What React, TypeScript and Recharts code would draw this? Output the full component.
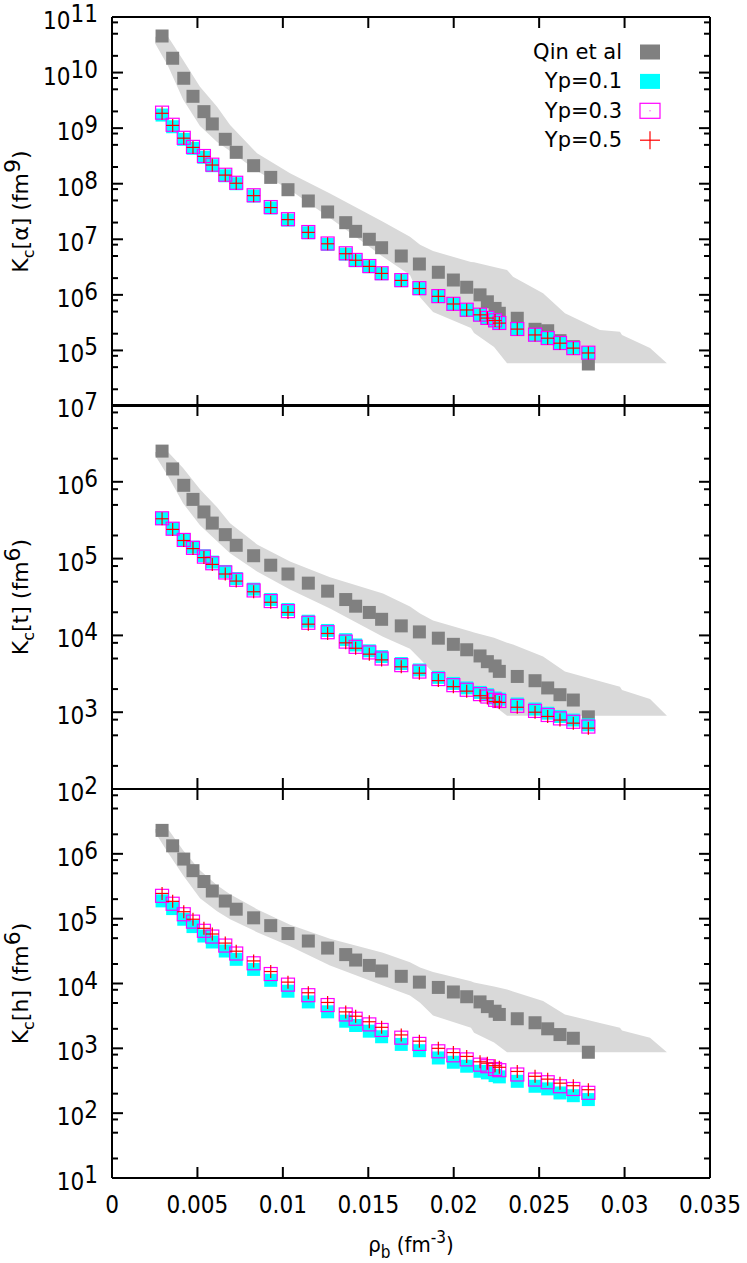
import { ComposedChart, Area, Scatter, XAxis, YAxis } from "recharts";

// baryon densities (fm^-3) shared by every point series
const rho = [
  0.00293, 0.00355, 0.0042, 0.00474, 0.00538, 0.00587, 0.00663, 0.00727, 0.00829, 0.00929, 0.0103,
  0.01149, 0.01262, 0.01368, 0.01426, 0.01506, 0.01578, 0.01693, 0.01799, 0.0191, 0.01998, 0.02076,
  0.02154, 0.02197, 0.02242, 0.02267, 0.02372, 0.02476, 0.0255, 0.02622, 0.027, 0.02788,
];

// K_c[alpha] (fm^9)
const qinAlpha = [
  4.55e10, 1.81e10, 7.9e9, 3.74e9, 1.98e9, 1.19e9, 6.3e8, 3.67e8, 2.11e8, 1.3e8, 7.8e7, 4.89e7, 3.1e7,
  1.99e7, 1.39e7, 1.0e7, 7.05e6, 5.0e6, 3.59e6, 2.55e6, 1.85e6, 1.37e6, 1.0e6, 7.5e5, 5.7e5, 4.66e5,
  3.79e5, 2.4e5, 2.26e5, 1.5e5, 1.17e5, 5.7e4,
];
const yp1Alpha = [
  1.72e9, 1.06e9, 6.3e8, 4.34e8, 2.99e8, 2.11e8, 1.39e8, 1.0e8, 6.0e7, 3.66e7, 2.22e7, 1.31e7, 8.1e6,
  5.4e6, 4.12e6, 3.21e6, 2.4e6, 1.8e6, 1.29e6, 9.3e5, 6.8e5, 5.3e5, 4.34e5, 3.79e5, 3.43e5, 3.08e5,
  2.4e5, 1.89e5, 1.65e5, 1.34e5, 1.09e5, 8.9e4,
];
const yp3Alpha = [
  1.9e9, 1.15e9, 6.7e8, 4.6e8, 3.15e8, 2.2e8, 1.45e8, 1.04e8, 6.2e7, 3.8e7, 2.3e7, 1.35e7, 8.4e6, 5.6e6,
  4.25e6, 3.3e6, 2.45e6, 1.84e6, 1.32e6, 9.5e5, 6.9e5, 5.4e5, 4.4e5, 3.85e5, 3.48e5, 3.12e5, 2.43e5,
  1.92e5, 1.67e5, 1.36e5, 1.1e5, 9.1e4,
];
const yp5Alpha = [
  1.85e9, 1.12e9, 6.6e8, 4.5e8, 3.1e8, 2.17e8, 1.43e8, 1.02e8, 6.1e7, 3.72e7, 2.26e7, 1.33e7, 8.3e6,
  5.5e6, 4.2e6, 3.25e6, 2.43e6, 1.82e6, 1.3e6, 9.4e5, 6.85e5, 5.35e5, 4.37e5, 3.82e5, 3.45e5, 3.1e5,
  2.42e5, 1.9e5, 1.66e5, 1.35e5, 1.1e5, 9.0e4,
];

// K_c[t] (fm^6)
const qinT = [
  2.51e6, 1.47e6, 9.0e5, 5.9e5, 4.05e5, 2.9e5, 2.05e5, 1.49e5, 1.09e5, 8.2e4, 6.3e4, 4.79e4, 3.77e4,
  2.93e4, 2.4e4, 1.99e4, 1.62e4, 1.33e4, 1.11e4, 9.2e3, 7.65e3, 6.5e3, 5.4e3, 4.55e3, 4.0e3, 3.4e3,
  2.92e3, 2.57e3, 2.07e3, 1.69e3, 1.44e3, 8.7e2,
];
const yp1T = [
  3.32e5, 2.45e5, 1.77e5, 1.41e5, 1.09e5, 9.0e4, 6.8e4, 5.5e4, 4.0e4, 2.93e4, 2.17e4, 1.53e4, 1.16e4,
  8.8e3, 7.5e3, 6.3e3, 5.3e3, 4.3e3, 3.55e3, 2.84e3, 2.37e3, 2.07e3, 1.81e3, 1.69e3, 1.53e3, 1.48e3,
  1.28e3, 1.1e3, 9.7e2, 8.8e2, 7.9e2, 6.85e2,
];
const yp3T = [
  3.35e5, 2.45e5, 1.75e5, 1.38e5, 1.06e5, 8.7e4, 6.6e4, 5.3e4, 3.85e4, 2.8e4, 2.07e4, 1.46e4, 1.1e4,
  8.3e3, 7.1e3, 6.0e3, 5.0e3, 4.1e3, 3.38e3, 2.7e3, 2.25e3, 1.96e3, 1.72e3, 1.6e3, 1.45e3, 1.4e3,
  1.21e3, 1.04e3, 9.2e2, 8.3e2, 7.5e2, 6.5e2,
];
const yp5T = [
  3.3e5, 2.4e5, 1.72e5, 1.35e5, 1.03e5, 8.4e4, 6.3e4, 5.1e4, 3.7e4, 2.7e4, 1.99e4, 1.4e4, 1.06e4, 8.0e3,
  6.8e3, 5.7e3, 4.8e3, 3.9e3, 3.22e3, 2.58e3, 2.15e3, 1.88e3, 1.64e3, 1.53e3, 1.38e3, 1.34e3, 1.16e3,
  1.0e3, 8.8e2, 7.9e2, 7.2e2, 6.2e2,
];

// K_c[h] (fm^6)
const qinH = [
  2.3e6, 1.33e6, 8.3e5, 5.5e5, 3.74e5, 2.67e5, 1.87e5, 1.4e5, 1.03e5, 7.8e4, 5.9e4, 4.52e4, 3.52e4,
  2.79e4, 2.3e4, 1.9e4, 1.56e4, 1.29e4, 1.05e4, 8.7e3, 7.4e3, 6.25e3, 5.2e3, 4.4e3, 3.74e3, 3.33e3,
  2.86e3, 2.48e3, 2.0e3, 1.63e3, 1.43e3, 8.7e2,
];
const yp1H = [
  1.88e5, 1.43e5, 9.8e4, 7.55e4, 5.4e4, 4.37e4, 3.17e4, 2.36e4, 1.65e4, 1.12e4, 7.6e3, 5.2e3, 3.66e3,
  2.62e3, 2.25e3, 1.84e3, 1.51e3, 1.15e3, 9.2e2, 7.1e2, 6.1e2, 5.3e2, 4.43e2, 4.18e2, 3.8e2, 3.63e2,
  3.1e2, 2.6e2, 2.37e2, 2.05e2, 1.86e2, 1.62e2,
];
const yp3H = [
  2.25e5, 1.7e5, 1.17e5, 9.0e4, 6.5e4, 5.3e4, 3.85e4, 2.9e4, 2.05e4, 1.4e4, 9.6e3, 6.6e3, 4.65e3, 3.33e3,
  2.86e3, 2.34e3, 1.92e3, 1.46e3, 1.17e3, 9.0e2, 7.8e2, 6.75e2, 5.6e2, 5.3e2, 4.8e2, 4.6e2, 3.95e2,
  3.3e2, 3.0e2, 2.6e2, 2.36e2, 2.06e2,
];
const yp5H = [
  2.45e5, 1.85e5, 1.28e5, 9.8e4, 7.1e4, 5.8e4, 4.2e4, 3.15e4, 2.23e4, 1.53e4, 1.05e4, 7.2e3, 5.1e3,
  3.65e3, 3.13e3, 2.57e3, 2.11e3, 1.61e3, 1.29e3, 1.0e3, 8.6e2, 7.5e2, 6.2e2, 5.9e2, 5.4e2, 5.1e2,
  4.4e2, 3.7e2, 3.35e2, 2.9e2, 2.65e2, 2.3e2,
];

// grey uncertainty band (Qin et al), lower / upper edge
const bandRho = [
  0.00252, 0.00328, 0.00416, 0.00515, 0.00615, 0.00691, 0.00849, 0.01042, 0.01276, 0.01586, 0.01744,
  0.01803, 0.01879, 0.02101, 0.02119, 0.02236, 0.02312, 0.02347, 0.02523, 0.02651, 0.02856, 0.02973,
  0.02985, 0.03149, 0.03248,
];
const alphaHi = [
  4.42e10, 4.42e10, 1.68e10, 5.57e9, 2.43e9, 1.14e9, 3.53e8, 1.54e8, 6.7e7, 2.07e7, 1.11e7, 8.0e6, 6.15e6,
  3.9e6, 3.85e6, 3.17e6, 2.8e6, 2.12e6, 1.07e6, 4.66e5, 2.33e5, 2.17e5, 1.9e5, 1.11e5, 5.9e4,
];
const alphaLo = [
  3.36e10, 1.31e10, 3.27e9, 1.09e9, 5.63e8, 3.88e8, 1.69e8, 7.7e7, 2.41e7, 4.86e6, 2.28e6, 9.1e5, 4.9e5,
  2.53e5, 2.06e5, 1.15e5, 5.9e4, 5.9e4, 5.9e4, 5.9e4, 5.9e4, 5.9e4, 5.9e4, 5.9e4, 5.9e4,
];
const tHi = [
  2.45e6, 2.45e6, 1.51e6, 8.0e5, 4.66e5, 2.88e5, 1.53e5, 9.2e4, 5.73e4, 3.52e4, 2.38e4, 1.93e4, 1.56e4,
  1.12e4, 1.09e4, 9.3e3, 8.05e3, 7.6e3, 5.3e3, 3.4e3, 2.53e3, 2.15e3, 1.94e3, 1.48e3, 8.98e2,
];
const tLo = [
  2.22e6, 1.18e6, 5.26e5, 2.71e5, 1.68e5, 1.17e5, 6.8e4, 3.96e4, 2.24e4, 9.6e3, 6.7e3, 4.93e3, 3.3e3,
  1.9e3, 1.72e3, 1.21e3, 8.98e2, 8.98e2, 8.98e2, 8.98e2, 8.98e2, 8.98e2, 8.98e2, 8.98e2, 8.98e2,
];
const hHi = [
  2.41e6, 2.41e6, 1.14e6, 5.6e5, 3.28e5, 2.38e5, 1.4e5, 8.05e4, 4.89e4, 2.97e4, 2.12e4, 1.77e4, 1.51e4,
  1.08e4, 1.04e4, 9.0e3, 8.1e3, 7.55e3, 5.35e3, 3.33e3, 2.46e3, 2.07e3, 1.88e3, 1.45e3, 8.7e2,
];
const hLo = [
  2.16e6, 1.04e6, 4.69e5, 2.07e5, 1.3e5, 9.8e4, 6.2e4, 3.74e4, 1.9e4, 9.35e3, 6.55e3, 5.05e3, 3.21e3,
  2.07e3, 1.74e3, 1.23e3, 8.7e2, 8.7e2, 8.7e2, 8.7e2, 8.7e2, 8.7e2, 8.7e2, 8.7e2, 8.7e2,
];

const xTicks = [0, 0.005, 0.01, 0.015, 0.02, 0.025, 0.03, 0.035];
const xTickLabels = ["0", "0.005", "0.01", "0.015", "0.02", "0.025", "0.03", "0.035"];
const legendLabels = ["Qin et al", "Yp=0.1", "Yp=0.3", "Yp=0.5"];

const tickFont = {
  fontFamily: "'DejaVu Sans Condensed', 'DejaVu Sans', sans-serif",
  fontStretch: "condensed" as const,
  fontSize: 24,
  fill: "#000",
};
const titleFont = { fontFamily: "'DejaVu Sans', sans-serif", fontSize: 22, fill: "#000" };

const pts = (ys: number[]) => rho.map((x, i) => ({ x, y: ys[i] }));
const band = (lo: number[], hi: number[]) => bandRho.map((x, i) => ({ x, band: [lo[i], hi[i]] }));

// log ticks: decades plus minor marks at 2, 5, 8
function logTicks(lo: number, hi: number) {
  const out: number[] = [];
  for (let e = lo; e <= hi; e++) {
    out.push(Math.pow(10, e));
    if (e < hi) [2, 5, 8].forEach((m) => out.push(m * Math.pow(10, e)));
  }
  return out;
}
const expOf = (v: number) => Math.log10(v);
const isMajor = (v: number) => Math.abs(expOf(v) - Math.round(expOf(v))) < 1e-6;

function LeftTick(props: any) {
  const { x, y, payload, labelExps } = props;
  const major = isMajor(payload.value);
  const e = Math.round(expOf(payload.value));
  return (
    <g>
      <line x1={x} x2={x + (major ? 11 : 6)} y1={y} y2={y} stroke="#000" strokeWidth={2} />
      {major && labelExps.includes(e) && (
        <text x={x - 14} y={y + 12} textAnchor="end" style={tickFont}>
          10<tspan dy={-7}>{e}</tspan>
        </text>
      )}
    </g>
  );
}

function RightTick(props: any) {
  const { x, y, payload } = props;
  const major = isMajor(payload.value);
  return <line x1={x} x2={x - (major ? 11 : 6)} y1={y} y2={y} stroke="#000" strokeWidth={2} />;
}

function BottomTick(props: any) {
  const { x, y, index, showLabel } = props;
  return (
    <g>
      <line x1={x} x2={x} y1={y} y2={y - 11} stroke="#000" strokeWidth={2} />
      {showLabel && (
        <text x={x} y={y + 35} textAnchor="middle" style={tickFont}>
          {xTickLabels[index]}
        </text>
      )}
    </g>
  );
}

function TopTick(props: any) {
  const { x, y } = props;
  return <line x1={x} x2={x} y1={y} y2={y + 11} stroke="#000" strokeWidth={2} />;
}

const QinMark = (p: any) => <rect x={p.cx - 6.5} y={p.cy - 6.5} width={13} height={13} fill="#808080" />;
const Yp1Mark = (p: any) => <rect x={p.cx - 6.5} y={p.cy - 6.5} width={13} height={13} fill="#00ffff" />;
const Yp3Mark = (p: any) => (
  <g>
    <rect x={p.cx - 6.5} y={p.cy - 6.5} width={13} height={13} fill="none" stroke="#ff00ff" strokeWidth={1.2} />
    <rect x={p.cx - 0.5} y={p.cy - 0.5} width={1} height={1} fill="#ff00ff" />
  </g>
);
const Yp5Mark = (p: any) => (
  <g stroke="#ff0000" strokeWidth={1.2}>
    <line x1={p.cx - 6.5} x2={p.cx + 6.5} y1={p.cy} y2={p.cy} />
    <line x1={p.cx} x2={p.cx} y1={p.cy - 6.5} y2={p.cy + 6.5} />
  </g>
);
const NoMark = () => <g />;

function YTitle({ viewBox, what, power }: any) {
  const cx = viewBox.x + 28;
  const cy = viewBox.y + viewBox.height / 2;
  return (
    <text x={cx} y={cy} transform={`rotate(-90 ${cx} ${cy})`} textAnchor="middle" style={titleFont}>
      K<tspan dy={6} fontSize={16}>c</tspan>
      <tspan dy={-6}>[{what}] (fm</tspan>
      <tspan dy={-8}>{power}</tspan>
      <tspan dy={8}>)</tspan>
    </text>
  );
}

function XTitle({ viewBox }: any) {
  const cx = viewBox.x + viewBox.width / 2;
  const cy = viewBox.y + 74;
  return (
    <text x={cx} y={cy} textAnchor="middle" style={{ ...tickFont, fontSize: 22 }}>
      ρ<tspan dy={6} fontSize={17}>b</tspan>
      <tspan dy={-6}> (fm</tspan>
      <tspan dy={-9} fontSize={17}>-3</tspan>
      <tspan dy={9}>)</tspan>
    </text>
  );
}

type PanelProps = {
  top: number;
  height: number;
  marginTop: number;
  marginBottom: number;
  decades: [number, number];
  labelExps: number[];
  what: string;
  power: string;
  bandData: { x: number; band: number[] }[];
  qin: number[];
  yp1: number[];
  yp3: number[];
  yp5: number[];
  showX?: boolean;
};

function Panel(p: PanelProps) {
  const [lo, hi] = p.decades;
  const ticks = logTicks(lo, hi);
  const domain = [Math.pow(10, lo), Math.pow(10, hi)];
  const axisLine = { stroke: "#000", strokeWidth: 2 };
  return (
    <div style={{ position: "absolute", left: 0, top: p.top }}>
      <ComposedChart
        width={747}
        height={p.height}
        data={p.bandData}
        margin={{ top: p.marginTop - 1, right: 0, bottom: p.showX ? 0 : p.marginBottom - 1, left: 0 }}
      >
        <XAxis
          xAxisId="b"
          dataKey="x"
          type="number"
          domain={[0, 0.035]}
          allowDataOverflow
          ticks={xTicks}
          interval={0}
          tickSize={0}
          tickMargin={0}
          height={p.showX ? 85 : 1}
          axisLine={axisLine}
          tick={(t: any) => <BottomTick {...t} showLabel={p.showX} />}
          label={p.showX ? { content: (l: any) => <XTitle {...l} /> } : undefined}
        />
        <XAxis
          xAxisId="t"
          dataKey="x"
          orientation="top"
          type="number"
          domain={[0, 0.035]}
          allowDataOverflow
          ticks={xTicks}
          interval={0}
          tickSize={0}
          tickMargin={0}
          height={1}
          axisLine={axisLine}
          tick={(t: any) => <TopTick {...t} />}
        />
        <YAxis
          yAxisId="l"
          type="number"
          scale="log"
          domain={domain}
          allowDataOverflow
          ticks={ticks}
          interval={0}
          tickSize={0}
          tickMargin={0}
          width={112}
          axisLine={axisLine}
          tick={(t: any) => <LeftTick {...t} labelExps={p.labelExps} />}
          label={{ content: (l: any) => <YTitle {...l} what={p.what} power={p.power} /> }}
        />
        <YAxis
          yAxisId="r"
          orientation="right"
          type="number"
          scale="log"
          domain={domain}
          allowDataOverflow
          ticks={ticks}
          interval={0}
          tickSize={0}
          tickMargin={0}
          width={37}
          axisLine={axisLine}
          tick={(t: any) => <RightTick {...t} />}
        />
        <Area
          xAxisId="b"
          yAxisId="l"
          dataKey="band"
          type="linear"
          fill="#d9d9d9"
          fillOpacity={1}
          stroke="none"
          isAnimationActive={false}
        />
        {/* invisible series so the mirrored top/right axes get drawn */}
        <Scatter xAxisId="t" yAxisId="r" data={pts(p.qin)} dataKey="y" shape={NoMark} isAnimationActive={false} />
        <Scatter xAxisId="b" yAxisId="l" data={pts(p.qin)} dataKey="y" shape={QinMark} isAnimationActive={false} />
        <Scatter xAxisId="b" yAxisId="l" data={pts(p.yp1)} dataKey="y" shape={Yp1Mark} isAnimationActive={false} />
        <Scatter xAxisId="b" yAxisId="l" data={pts(p.yp3)} dataKey="y" shape={Yp3Mark} isAnimationActive={false} />
        <Scatter xAxisId="b" yAxisId="l" data={pts(p.yp5)} dataKey="y" shape={Yp5Mark} isAnimationActive={false} />
      </ComposedChart>
    </div>
  );
}

function LegendBox() {
  const rowY = (i: number) => 52 + i * 29.4;
  return (
    <svg width={747} height={170} style={{ position: "absolute", left: 0, top: 0, pointerEvents: "none" }}>
      {legendLabels.map((name, i) => (
        <text key={name} x={622} y={rowY(i) + 7} textAnchor="end" style={{ ...titleFont, fontSize: 21 }}>
          {name}
        </text>
      ))}
      <rect x={640} y={rowY(0) - 7.5} width={20} height={15} fill="#808080" />
      <rect x={640} y={rowY(1) - 7.5} width={20} height={15} fill="#00ffff" />
      <rect x={640} y={rowY(2) - 7.5} width={20} height={15} fill="none" stroke="#ff00ff" strokeWidth={1.2} />
      <rect x={649.5} y={rowY(2) - 0.5} width={1} height={1} fill="#ff00ff" />
      <line x1={640} x2={660} y1={rowY(3)} y2={rowY(3)} stroke="#ff0000" strokeWidth={1.2} />
      <line x1={650} x2={650} y1={rowY(3) - 9} y2={rowY(3) + 9} stroke="#ff0000" strokeWidth={1.2} />
    </svg>
  );
}

export default function App() {
  return (
    <div style={{ position: "absolute", left: 0, top: 0, width: 747, height: 1263, background: "#fff" }}>
      <Panel
        top={0}
        height={420}
        marginTop={17}
        marginBottom={14}
        decades={[4, 11]}
        labelExps={[5, 6, 7, 8, 9, 10, 11]}
        what="α"
        power="9"
        bandData={band(alphaLo, alphaHi)}
        qin={qinAlpha}
        yp1={yp1Alpha}
        yp3={yp3Alpha}
        yp5={yp5Alpha}
      />
      <Panel
        top={380}
        height={440}
        marginTop={25}
        marginBottom={31}
        decades={[2, 7]}
        labelExps={[2, 3, 4, 5, 6, 7]}
        what="t"
        power="6"
        bandData={band(tLo, tHi)}
        qin={qinT}
        yp1={yp1T}
        yp3={yp3T}
        yp5={yp5T}
      />
      <Panel
        top={760}
        height={503}
        marginTop={29}
        marginBottom={0}
        decades={[1, 7]}
        labelExps={[1, 2, 3, 4, 5, 6]}
        what="h"
        power="6"
        bandData={band(hLo, hHi)}
        qin={qinH}
        yp1={yp1H}
        yp3={yp3H}
        yp5={yp5H}
        showX
      />
      <LegendBox />
    </div>
  );
}
